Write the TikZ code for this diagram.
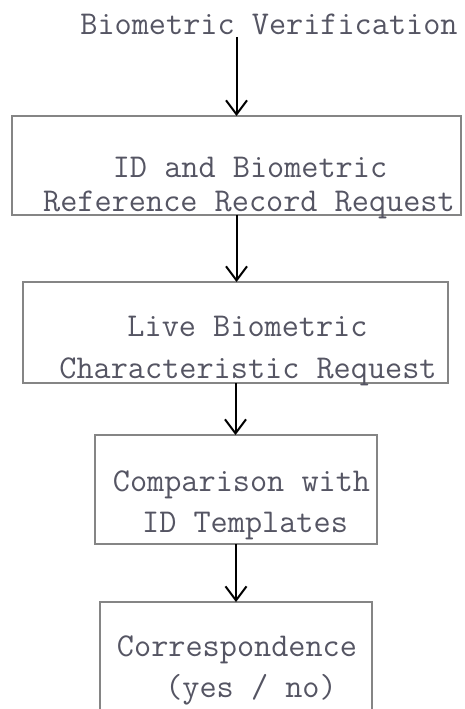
\documentclass[tikz,border=0pt]{standalone}
\usetikzlibrary{arrows.meta}
\definecolor{boxgray}{HTML}{858585}
\definecolor{txtgray}{HTML}{555563}
\begin{document}
\begin{tikzpicture}[x=1pt,y=-1pt,
  stepbox/.style={draw=boxgray,line width=2pt,rectangle,inner sep=0pt,outer sep=0pt},
  label/.style={anchor=base,inner sep=1.5pt,text=txtgray,font=\fontsize{33.3}{40}\selectfont\ttfamily},
  arr/.style={draw=black,line width=2pt,-{Straight Barb[length=14pt,width=21pt,line width=2pt]}}]
\clip (0,0) rectangle (464,709);
\useasboundingbox (0,0) rectangle (464,709);
% boxes
\node[stepbox,minimum width=449pt,minimum height=99pt] (b1) at (236.5,165.5) {};
\node[stepbox,minimum width=425pt,minimum height=101pt] (b2) at (235.5,332.5) {};
\node[stepbox,minimum width=282pt,minimum height=109pt] (b3) at (236,489.5) {};
\node[stepbox,minimum width=272pt,minimum height=110pt] (b4) at (236,657) {};
% texts
\node[label] (title) at (269,35) {Biometric Verification};
\node[label] (t1a) at (250,177) {ID and Biometric};
\node[label] (t1b) at (249,211) {Reference Record Request};
\node[label] (t2a) at (247.5,336) {Live Biometric};
\node[label] (t2b) at (248,378) {Characteristic Request};
\node[label] (t3a) at (241.5,491) {Comparison with};
\node[label] (t3b) at (245,532) {ID Templates};
\node[label] (t4a) at (237,656) {Correspondence};
\node[label] (t4b) at (251,697) {(yes / no)};
% arrows
\draw[arr] (title.south -| b1.north) -- (b1.north);
\draw[arr] (b1.south) -- (b1.south |- b2.north);
\draw[arr] (b2.south) -- (b2.south |- b3.north);
\draw[arr] (b3.south) -- (b3.south |- b4.north);
\end{tikzpicture}
\end{document}
